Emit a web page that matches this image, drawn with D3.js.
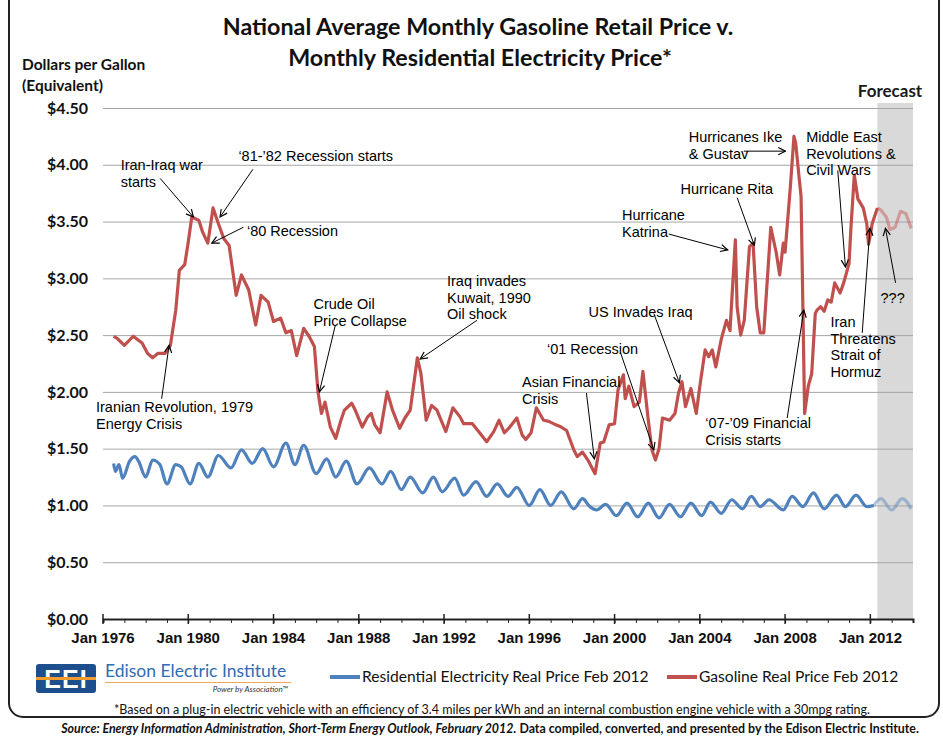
<!DOCTYPE html>
<html>
<head>
<meta charset="utf-8">
<script src="https://cdn.jsdelivr.net/npm/d3@7"></script>
<style>
body { margin: 0; background: #fff; }
svg { display: block; font-family: Lato, "Liberation Sans", sans-serif; }
.note { font-family: "Liberation Sans", Arial, sans-serif; font-size: 14.5px; fill: #000; }
</style>
</head>
<body>
<svg width="943" height="737"></svg>
<script>
// gasoline, real $ per gallon
var gasDates = ["1976-07","1976-09","1977-01","1977-06","1977-11","1978-02","1978-05","1978-08","1978-12",
  "1979-03","1979-06","1979-08","1979-11","1980-01","1980-03","1980-07","1980-09","1980-12",
  "1981-03","1981-06","1981-09","1981-12","1982-04","1982-07","1982-11","1983-03","1983-06","1983-10",
  "1984-01","1984-05","1984-08","1984-11","1985-02","1985-06","1985-09","1985-12",
  "1986-02","1986-04","1986-06","1986-09","1986-12","1987-03","1987-05","1987-09","1987-11",
  "1988-03","1988-06","1988-08","1988-10","1989-01","1989-05","1989-08","1989-12",
  "1990-03","1990-06","1990-10","1990-12","1991-03","1991-06","1991-09",
  "1992-02","1992-06","1992-10","1992-12","1993-05","1993-09","1994-01","1994-05","1994-08","1994-11",
  "1995-02","1995-06","1995-09","1995-11","1996-02","1996-05","1996-09","1996-12",
  "1997-04","1997-07","1997-10","1998-02","1998-04","1998-07","1998-10","1999-02","1999-05","1999-07","1999-10",
  "2000-01","2000-03","2000-06","2000-07","2000-09","2000-12","2001-03","2001-05","2001-08","2001-10","2001-12",
  "2002-02","2002-04","2002-08","2002-11","2003-01","2003-03","2003-05","2003-08","2003-11",
  "2004-01","2004-04","2004-06","2004-08","2004-10","2005-01","2005-04","2005-06","2005-09","2005-10","2005-12",
  "2006-02","2006-05","2006-07","2006-09","2006-11","2007-01","2007-05","2007-08","2007-10","2007-12",
  "2008-01","2008-04","2008-06","2008-07","2008-09","2008-10","2008-11","2008-12",
  "2009-02","2009-04","2009-06","2009-07","2009-09","2009-11","2010-01","2010-03","2010-05","2010-08","2010-10",
  "2011-01","2011-02","2011-04","2011-06","2011-09","2011-11","2011-12","2012-01","2012-02","2012-05",
  "2012-07","2012-10","2012-12","2013-03","2013-06","2013-09","2013-12"];
var gasValues = [2.49,2.47,2.41,2.49,2.43,2.34,2.30,2.34,2.34,
  2.41,2.72,3.07,3.12,3.32,3.54,3.51,3.41,3.31,
  3.62,3.48,3.35,3.29,2.85,3.03,2.90,2.59,2.85,2.79,
  2.62,2.65,2.52,2.54,2.32,2.56,2.49,2.40,
  2.00,1.81,1.91,1.69,1.59,1.75,1.84,1.90,1.84,
  1.69,1.78,1.81,1.71,1.64,2.00,1.84,1.68,
  1.77,1.84,2.30,2.16,1.75,1.88,1.84,
  1.65,1.86,1.78,1.72,1.72,1.64,1.56,1.65,1.75,1.64,
  1.69,1.77,1.62,1.58,1.64,1.86,1.75,1.74,
  1.71,1.69,1.66,1.49,1.43,1.47,1.40,1.28,1.55,1.56,1.71,
  1.72,2.02,2.15,1.94,2.05,1.87,1.91,2.18,1.75,1.49,1.40,
  1.50,1.77,1.75,1.81,1.99,2.09,1.87,2.03,1.81,
  2.05,2.37,2.31,2.37,2.22,2.46,2.63,2.54,3.34,2.75,2.50,
  2.63,3.28,3.31,2.75,2.52,2.52,3.45,3.23,3.03,3.31,
  3.23,3.81,4.25,4.19,3.87,3.72,2.75,1.81,
  2.05,2.16,2.69,2.72,2.75,2.71,2.81,2.79,2.96,2.87,2.96,
  3.13,3.43,3.91,3.70,3.62,3.48,3.30,3.38,3.48,3.62,
  3.60,3.54,3.43,3.45,3.59,3.57,3.44];

// residential electricity, real $ per gallon equivalent
var elecDates = ["1976-07","1976-08","1976-10","1976-12","1977-04","1977-07","1977-09","1978-01","1978-05","1978-09",
  "1979-01","1979-06","1979-09","1980-02","1980-07","1980-12","1981-06","1982-01","1982-07","1983-01","1983-07",
  "1984-01","1984-08","1985-01","1985-06","1986-01","1986-07","1986-12","1987-06","1987-12","1988-07",
  "1989-02","1989-07","1990-01","1990-06","1991-01","1991-07","1991-12","1992-07","1992-12","1993-07",
  "1994-01","1994-07","1995-01","1995-06","1996-01","1996-07","1997-01","1997-07","1998-02","1998-07","1998-11",
  "1999-03","1999-08","2000-02","2000-08","2001-02","2001-08","2002-02","2002-08","2003-02","2003-08",
  "2004-02","2004-07","2005-01","2005-07","2006-01","2006-06","2006-11","2007-04","2007-12","2008-05","2008-11",
  "2009-05","2009-11","2010-06","2010-11","2011-05","2011-11","2012-03","2012-07","2013-01","2013-07","2013-12"];
var elecValues = [1.37,1.30,1.36,1.24,1.39,1.43,1.39,1.25,1.40,1.36,
  1.19,1.36,1.34,1.19,1.37,1.25,1.44,1.33,1.49,1.37,1.50,
  1.34,1.55,1.36,1.53,1.28,1.41,1.25,1.39,1.19,1.33,
  1.19,1.30,1.14,1.25,1.11,1.25,1.12,1.24,1.09,1.21,
  1.08,1.19,1.08,1.16,1.00,1.14,1.00,1.12,0.97,1.06,0.99,
  0.96,1.01,0.91,1.02,0.90,1.02,0.89,1.01,0.90,1.02,
  0.91,1.03,0.93,1.05,0.97,1.08,0.99,1.05,0.96,1.08,0.99,
  1.11,0.97,1.09,0.99,1.09,0.99,1.00,1.06,0.96,1.06,0.97];

var forecastStart = "2012-05";
var yearLabels = [1976,1980,1984,1988,1992,1996,2000,2004,2008,2012];
var dollarTicks = [0,0.5,1,1.5,2,2.5,3,3.5,4,4.5];

// annotations: text position, arrow tail and arrow tip in (year, $) units
var notes = [
  {lines:["Iran-Iraq war","starts"], at:[1976.83,3.95], from:[1978.68,3.88], to:[1980.24,3.54]},
  {lines:["\u201881-\u201982 Recession starts"], at:[1982.35,4.03], from:[1983.03,3.96], to:[1981.49,3.54]},
  {lines:["\u201880 Recession"], at:[1982.75,3.37], from:[1982.59,3.45], to:[1981.10,3.31]},
  {lines:["Iranian Revolution, 1979","Energy Crisis"], at:[1975.67,1.82], from:[1978.75,1.94], to:[1979.10,2.41]},
  {lines:["Crude Oil","Price Collapse"], at:[1985.87,2.73], from:[1986.89,2.58], to:[1986.15,2.00]},
  {lines:["Iraq invades","Kuwait, 1990","Oil shock"], at:[1992.14,2.93], from:[1993.54,2.63], to:[1990.88,2.29]},
  {lines:["Asian Financial","Crisis"], at:[1995.66,2.04], from:[1998.68,1.99], to:[1999.05,1.41]},
  {lines:["\u201801 Recession"], at:[1996.83,2.33], from:[2000.27,2.35], to:[2001.84,1.49]},
  {lines:["US Invades Iraq"], at:[1998.78,2.66], from:[2001.84,2.69], to:[2003.04,2.08]},
  {lines:["Hurricane","Katrina"], at:[2000.35,3.51], from:[2002.54,3.39], to:[2005.31,3.25]},
  {lines:["Hurricane Rita"], at:[2003.09,3.74], from:[2005.75,3.71], to:[2006.56,3.29]},
  {lines:["Hurricanes Ike","& Gustav"], at:[2003.48,4.20], from:[2006.06,4.12], to:[2008.02,4.12]},
  {lines:["Middle East","Revolutions &","Civil Wars"], at:[2008.99,4.20], from:[2010.47,3.95], to:[2010.83,3.10]},
  {lines:["Iran","Threatens","Strait of","Hormuz"], at:[2010.13,2.57], from:[2011.62,2.52], to:[2011.98,3.44]},
  {lines:["???"], at:[2012.48,2.78], from:[2013.18,2.96], to:[2012.71,3.44]},
  {lines:["\u201807-\u201909 Financial","Crisis starts"], at:[2004.26,1.68], from:[2008.10,1.77], to:[2008.88,2.72]}
];

var svg = d3.select("svg");
var parse = d3.timeParse("%Y-%m");
var fc = parse(forecastStart);

var x = d3.scaleTime().domain([new Date(1976,0,1), new Date(2014,0,1)]).range([103, 913]);
var y = d3.scaleLinear().domain([0, 4.5]).range([619, 108]);

function yd(t) {
  var yr = Math.floor(t);
  return new Date(yr, 0, 1 + Math.round((t - yr) * 365));
}

var gas = gasDates.map((d, i) => ({date: parse(d), v: gasValues[i]}));
var elec = elecDates.map((d, i) => ({date: parse(d), v: elecValues[i]}));

// frame
svg.append("rect")
  .attr("x", 9).attr("y", -20).attr("width", 930).attr("height", 737)
  .attr("rx", 14)
  .attr("fill", "none").attr("stroke", "#222").attr("stroke-width", 2);

// forecast shading
svg.append("rect")
  .attr("x", x(fc)).attr("y", y(4.5) - 5)
  .attr("width", x.range()[1] - x(fc)).attr("height", y(0) - y(4.5) + 5)
  .attr("fill", "#d9d9d9");

svg.append("text")
  .attr("x", 890).attr("y", 97)
  .attr("text-anchor", "middle")
  .attr("font-size", 17).attr("font-weight", "bold").attr("fill", "#1a1a1a")
  .text("Forecast");

// y axis + gridlines
var yAxis = svg.append("g")
  .attr("transform", "translate(103,0)")
  .call(d3.axisLeft(y).tickValues(dollarTicks)
    .tickSize(-(x.range()[1] - x.range()[0])).tickPadding(15)
    .tickFormat(d => "$" + d.toFixed(2)));
yAxis.select(".domain").remove();
yAxis.selectAll("line").attr("stroke", "#a6a6a6");
yAxis.selectAll("text")
  .attr("font-family", "Lato, sans-serif")
  .attr("font-size", 16).attr("font-weight", "bold").attr("fill", "#111");

// lines
var line = d3.line().x(d => x(d.date)).y(d => y(d.v));
var smooth = d3.line().x(d => x(d.date)).y(d => y(d.v)).curve(d3.curveMonotoneX);

function drawSeries(data, gen, color) {
  var past = data.filter(d => d.date <= fc);
  var next = data.filter(d => d.date >= fc);
  var bridge = data[past.length - 1];
  if (next[0] !== bridge) next.unshift(bridge);
  svg.append("path").datum(past)
    .attr("d", gen).attr("fill", "none")
    .attr("stroke", color).attr("stroke-width", 3.2)
    .attr("stroke-linejoin", "round");
  svg.append("path").datum(next)
    .attr("d", gen).attr("fill", "none")
    .attr("stroke", color).attr("stroke-width", 3.2).attr("stroke-opacity", 0.45)
    .attr("stroke-linejoin", "round");
}
drawSeries(elec, smooth, "#4f81bd");
drawSeries(gas, line, "#c0504d");

// x axis
var xg = svg.append("g").attr("transform", "translate(0," + y(0) + ")");
xg.call(d3.axisBottom(x)
  .tickValues(d3.range(1976, 2015).map(yr => new Date(yr, 0, 1)))
  .tickSize(4).tickFormat(""));
xg.select(".domain").attr("stroke", "#222").attr("stroke-width", 2);
xg.selectAll(".tick line").attr("stroke", "#222");
xg.selectAll(".major")
  .data(yearLabels).enter().append("line")
  .attr("x1", d => x(new Date(d, 0, 1))).attr("x2", d => x(new Date(d, 0, 1)))
  .attr("y1", -5).attr("y2", 5)
  .attr("stroke", "#222").attr("stroke-width", 1.5);
xg.selectAll(".lab")
  .data(yearLabels).enter().append("text")
  .attr("x", d => x(new Date(d, 0, 1))).attr("y", 24)
  .attr("text-anchor", "middle")
  .attr("font-size", 15).attr("font-weight", "bold").attr("fill", "#111")
  .text(d => "Jan " + d);

// annotations
svg.append("defs").append("marker")
  .attr("id", "arr").attr("viewBox", "0 0 10 10")
  .attr("refX", 9).attr("refY", 5)
  .attr("markerWidth", 9).attr("markerHeight", 9)
  .attr("markerUnits", "userSpaceOnUse").attr("orient", "auto")
  .append("path").attr("d", "M1,1 L9,5 L1,9")
  .attr("fill", "none").attr("stroke", "#000").attr("stroke-width", 1.3);

var ng = svg.append("g");
notes.forEach(n => {
  ng.append("line")
    .attr("x1", x(yd(n.from[0]))).attr("y1", y(n.from[1]))
    .attr("x2", x(yd(n.to[0]))).attr("y2", y(n.to[1]))
    .attr("stroke", "#000").attr("stroke-width", 1)
    .attr("marker-end", "url(#arr)");
  var t = ng.append("text").attr("class", "note")
    .attr("x", x(yd(n.at[0]))).attr("y", y(n.at[1]));
  n.lines.forEach((s, i) => {
    t.append("tspan").attr("x", x(yd(n.at[0]))).attr("dy", i ? 16.6 : 0).text(s);
  });
});

// titles
svg.append("text").attr("x", 478).attr("y", 35).attr("text-anchor", "middle")
  .attr("font-size", 23.3).attr("font-weight", "bold").attr("fill", "#111")
  .text("National Average Monthly Gasoline Retail Price v.");
svg.append("text").attr("x", 480).attr("y", 66).attr("text-anchor", "middle")
  .attr("font-size", 23.3).attr("font-weight", "bold").attr("fill", "#111")
  .text("Monthly Residential Electricity Price*");

svg.append("text").attr("x", 22).attr("y", 70)
  .attr("font-size", 15.5).attr("font-weight", "bold").attr("fill", "#111")
  .text("Dollars per Gallon");
svg.append("text").attr("x", 22).attr("y", 91)
  .attr("font-size", 15.5).attr("font-weight", "bold").attr("fill", "#111")
  .text("(Equivalent)");

// EEI logo
var logo = svg.append("g");
logo.append("rect").attr("x", 36).attr("y", 664).attr("width", 60).attr("height", 29)
  .attr("rx", 3).attr("fill", "#1d4f8e");
logo.append("text").attr("x", 66).attr("y", 688).attr("text-anchor", "middle")
  .attr("font-family", "'Liberation Sans', sans-serif")
  .attr("font-size", 25).attr("font-weight", "bold").attr("fill", "#fff")
  .attr("letter-spacing", 1).text("EEI");
logo.append("rect").attr("x", 36).attr("y", 677).attr("width", 60).attr("height", 3)
  .attr("fill", "#f29b2e");
logo.append("text").attr("x", 105).attr("y", 677)
  .attr("font-size", 17.5).attr("fill", "#2e6db4").text("Edison Electric Institute");
logo.append("line").attr("x1", 105).attr("x2", 291).attr("y1", 682.5).attr("y2", 682.5)
  .attr("stroke", "#f2a65a").attr("stroke-width", 1);
logo.append("text").attr("x", 288).attr("y", 692).attr("text-anchor", "end")
  .attr("font-size", 8).attr("font-style", "italic").attr("fill", "#333")
  .text("Power by Association\u2122");

// legend
var legend = [
  {name: "Residential Electricity Real Price Feb 2012", color: "#4f81bd", x0: 330},
  {name: "Gasoline Real Price Feb 2012", color: "#c0504d", x0: 667}
];
legend.forEach(l => {
  svg.append("line").attr("x1", l.x0).attr("x2", l.x0 + 30).attr("y1", 677).attr("y2", 677)
    .attr("stroke", l.color).attr("stroke-width", 4);
  svg.append("text").attr("x", l.x0 + 32).attr("y", 682)
    .attr("font-size", 15.6).attr("fill", "#111").text(l.name);
});

// footnotes
svg.append("text").attr("x", 492).attr("y", 714).attr("text-anchor", "middle")
  .attr("font-size", 12.5).attr("fill", "#111")
  .text("*Based on a plug-in electric vehicle with an efficiency of 3.4 miles per kWh and an internal combustion engine vehicle with a 30mpg rating.");
var src = svg.append("text").attr("x", 490).attr("y", 733).attr("text-anchor", "middle")
  .attr("font-size", 12.4).attr("font-weight", "bold").attr("fill", "#111");
src.append("tspan").attr("font-style", "italic")
  .text("Source: Energy Information Administration, Short-Term Energy Outlook, February 2012.");
src.append("tspan").text(" Data compiled, converted, and presented by the Edison Electric Institute.");
</script>
</body>
</html>
